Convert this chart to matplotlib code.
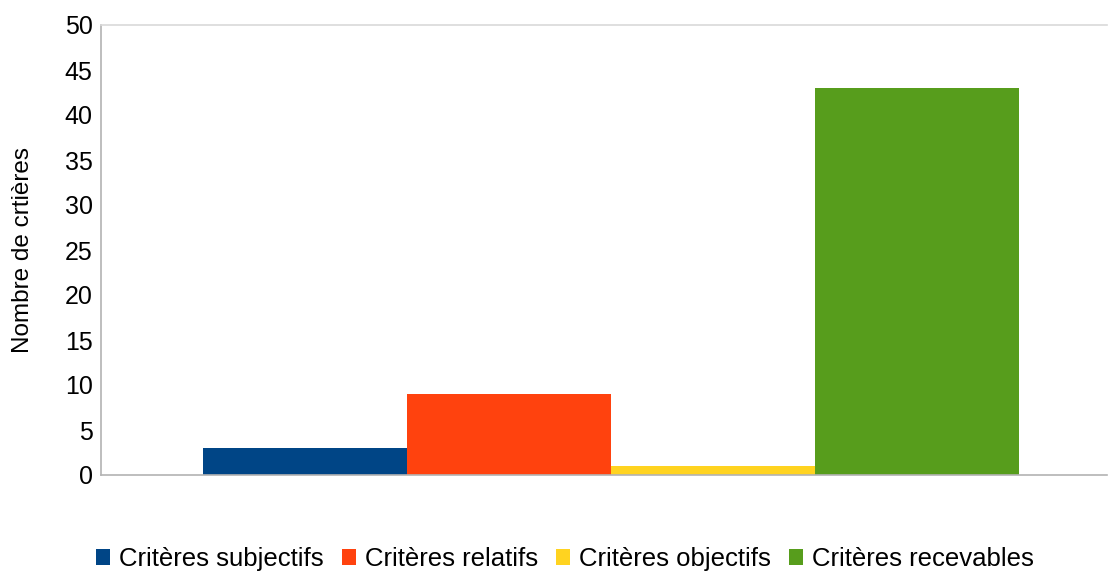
import matplotlib
matplotlib.use("Agg")
import matplotlib.pyplot as plt

plt.rcParams["font.family"] = ["Liberation Sans", "DejaVu Sans"]

series = ["Critères subjectifs", "Critères relatifs", "Critères objectifs", "Critères recevables"]
values = [3, 9, 1, 43]
colors = ["#004586", "#ff420e", "#ffd320", "#579d1c"]
yticks = list(range(0, 51, 5))

fig = plt.figure(figsize=(11.08, 5.75), dpi=100)
ax = fig.add_axes([101 / 1108, 1 - 475 / 575, 1006 / 1108, 450 / 575])

# une seule catégorie, les séries côte à côte
for i, (name, v, c) in enumerate(zip(series, values, colors)):
    ax.bar(i, v, width=1.0, align="edge", color=c, label=name)

ax.set_xlim(-0.5, 4.43)
ax.set_ylim(0, 50)
ax.set_yticks(yticks)
ax.set_xticks([])
ax.tick_params(axis="y", length=0, pad=6, labelsize=18)
ax.set_ylabel("Nombre de crtières", fontsize=17.5, va="center")
ax.yaxis.set_label_coords(-78 / 1006, 0.5)

ax.spines["right"].set_visible(False)
ax.spines["left"].set_color("#b3b3b3")
ax.spines["bottom"].set_color("#b3b3b3")
ax.spines["top"].set_color("#d9d9d9")
for s in ax.spines.values():
    s.set_linewidth(1.2)

fig.legend(loc="center", bbox_to_anchor=(565 / 1108, 1 - 559 / 575), ncol=4,
           frameon=False, fontsize=18.5, handlelength=0.55, handleheight=0.55,
           handletextpad=0.35, columnspacing=0.7, borderaxespad=0)

fig.savefig("out.png", dpi=100)
